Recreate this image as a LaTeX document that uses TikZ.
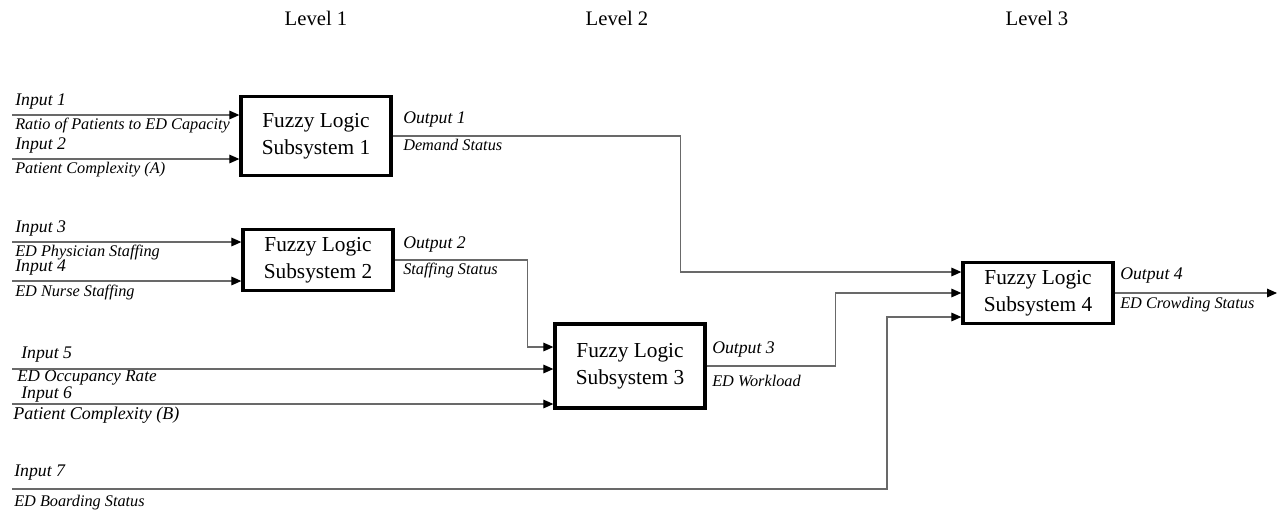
\documentclass[tikz,border=0pt]{standalone}
\usepackage{fontspec}
\setmainfont{Liberation Serif}
\usetikzlibrary{arrows.meta,positioning,calc}
\definecolor{wire}{RGB}{105,105,105}

\begin{document}
\begin{tikzpicture}[x=0.75pt,y=-0.75pt,
  fls/.style={rectangle,draw,line width=2.5pt,minimum width=112.5pt,align=center,font=\fontsize{16}{20}\selectfont},
  lvl/.style={font=\fontsize{15.5}{18}\selectfont},
  tag/.style={anchor=west,inner sep=0pt,font=\fontsize{13.3}{15}\selectfont\itshape},
  sub/.style={anchor=west,inner sep=0pt,font=\fontsize{12.2}{14}\selectfont\itshape},
  conn/.style={wire,line width=0.8pt,-{Triangle[length=7.5pt,width=6.5pt,color=black]}}]
  \useasboundingbox (0,0) rectangle (1278,515);
  % level headings
  \node[lvl] (lvl1) at (316,18) {Level 1};
  \node[lvl] (lvl2) at (617,18) {Level 2};
  \node[lvl] (lvl3) at (1037,18) {Level 3};
  % fuzzy logic subsystems
  \node[fls,minimum height=59pt] (fls1) at (316,136) {Fuzzy Logic\\Subsystem 1};
  \node[fls,minimum height=46pt] (fls2) at (318,260) {Fuzzy Logic\\Subsystem 2};
  \node[fls,minimum height=63pt] (fls3) at (630,366) {Fuzzy Logic\\Subsystem 3};
  \node[fls,minimum height=46pt] (fls4) at (1038,293) {Fuzzy Logic\\Subsystem 4};
  % level 1 inputs
  \foreach \n/\y/\b/\txt in {1/115/fls1/Ratio of Patients to ED Capacity,
                             2/159/fls1/Patient Complexity (A),
                             3/242/fls2/ED Physician Staffing,
                             4/281/fls2/ED Nurse Staffing} {
    \coordinate (in\n) at (12,\y);
    \node[tag] (tag\n) at (15,\y-13) {Input \n};
    \node[sub] (sub\n) at (15,\y+11) {\txt};
    \draw[conn] (in\n) -- (\b.west |- in\n);
  }
  % level 2 inputs
  \coordinate (in5) at (12,369);
  \coordinate (in6) at (12,404);
  \node[tag] (tag5) at (21,355) {Input 5};
  \node[sub,font=\fontsize{12.8}{15}\selectfont\itshape] (sub5) at (17,378) {ED Occupancy Rate};
  \node[tag] (tag6) at (21,395) {Input 6};
  \node[sub,font=\fontsize{13.5}{15}\selectfont\itshape] (sub6) at (13,415) {Patient Complexity (B)};
  \draw[conn] (in5) -- (fls3.west |- in5);
  \draw[conn] (in6) -- (fls3.west |- in6);
  % level 3 input
  \coordinate (in7) at (12,489);
  \node[tag] (tag7) at (14,473) {Input 7};
  \node[sub] (sub7) at (14,503) {ED Boarding Status};
  \draw[conn] (in7) -- ++(875,0) |- ($(fls4.west)+(0,24)$);
  % outputs
  \draw[conn] (fls1.east) -- ++(288,0) |- ($(fls4.west)+(0,-21)$);
  \draw[conn] (fls2.east) -- ++(133,0) |- ($(fls3.west)+(0,-19)$);
  \draw[conn] (fls3.east) -- ++(129,0) |- (fls4.west);
  \coordinate (crowd) at (1277,293);
  \draw[conn] (fls4.east) -- (crowd);
  \node[tag] (out1) at (403,120) {Output 1};
  \node[sub] (dem) at (403,145) {Demand Status};
  \node[tag] (out2) at (403,245) {Output 2};
  \node[sub] (staff) at (403,270) {Staffing Status};
  \node[tag] (out3) at (712,350) {Output 3};
  \node[sub] (work) at (712,381) {ED Workload};
  \node[tag] (out4) at (1120,276) {Output 4};
  \node[sub] (crowdst) at (1120,305) {ED Crowding Status};
\end{tikzpicture}
\end{document}
